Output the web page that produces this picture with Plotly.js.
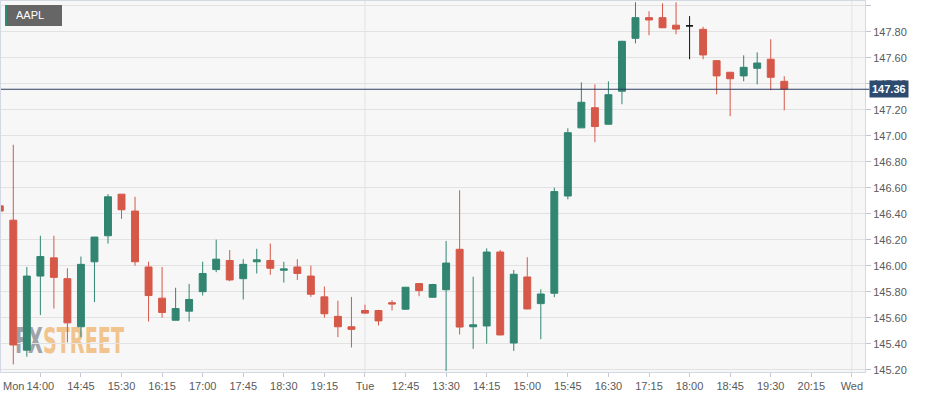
<!DOCTYPE html>
<html>
<head>
<meta charset="utf-8">
<script src="https://cdn.plot.ly/plotly-3.0.1.min.js"></script>
<style>
html,body{margin:0;padding:0;background:#fff;}
#wrap{position:relative;width:930px;height:399px;overflow:hidden;background:#fff;}
#plotbg{position:absolute;left:1px;top:1px;width:864px;height:371px;background:#f7f7f7;}
#wm{position:absolute;left:0;top:0;}
#chart{position:absolute;left:0;top:0;width:930px;height:399px;}
#sym{position:absolute;left:5px;top:5px;width:57px;height:21px;box-sizing:border-box;background:#666;border-left:2px solid #2f8a72;color:#fff;font:11px 'Liberation Sans',Arial,sans-serif;line-height:21px;padding-left:9px;z-index:5;}
</style>
</head>
<body>
<div id="wrap">
  <div id="plotbg"></div>
  <svg id="wm" width="930" height="399">
    <text x="15" y="353" font-family="'Liberation Sans Narrow','DejaVu Sans Condensed','Liberation Sans',sans-serif" font-weight="bold" font-size="36" textLength="109" lengthAdjust="spacingAndGlyphs"><tspan fill="#a0a3aa">FX</tspan><tspan fill="#f1c38d">STREET</tspan></text>
  </svg>
  <div id="chart"></div>
  <div id="sym">AAPL</div>
</div>
<script>
// 15-minute candles, index = slot on the session-compressed time axis
const openP  = [146.46,146.35,145.35,145.92,146.06,145.90,145.53,146.03,146.23,146.55,
                146.42,145.99,145.75,145.58,145.65,145.80,145.97,146.04,145.90,146.03,
                146.04,145.965,145.99,145.92,145.76,145.61,145.53,145.655,145.655,145.715,
                145.665,145.862,145.757,145.815,146.126,145.53,145.536,146.105,145.405,145.913,
                145.708,145.788,146.536,147.06,147.215,147.088,147.342,147.749,147.908,147.908,
                147.85,147.845,147.818,147.577,147.488,147.46,147.518,147.588,147.418];
const highP  = [146.47,146.93,145.99,146.23,146.23,145.98,146.07,146.22,146.55,146.55,
                146.53,146.03,145.99,145.83,145.86,146.03,146.20,146.12,146.05,146.13,
                146.17,146.03,146.05,146.00,145.84,145.73,145.76,145.70,145.66,145.735,
                145.835,145.865,145.86,146.19,146.58,145.915,146.133,146.12,145.967,146.065,
                145.818,146.60,147.057,147.41,147.395,147.418,147.73,148.026,147.957,148.018,
                148.026,147.92,147.838,147.58,147.49,147.618,147.641,147.742,147.457];
const lowP   = [146.41,145.24,145.30,145.62,145.67,145.41,145.45,145.72,146.17,146.36,
                146.00,145.57,145.60,145.58,145.57,145.77,145.95,145.88,145.74,145.94,
                145.93,145.87,145.89,145.76,145.60,145.45,145.37,145.63,145.54,145.655,
                145.66,145.765,145.755,145.19,145.47,145.36,145.40,145.465,145.344,145.665,
                145.434,145.757,146.51,147.06,146.95,147.085,147.242,147.71,147.772,147.83,
                147.78,147.588,147.588,147.318,147.15,147.418,147.395,147.349,147.195];
const closeP = [146.42,145.39,145.92,146.07,145.91,145.56,146.01,146.22,146.53,146.43,
                146.03,145.77,145.64,145.67,145.74,145.94,146.05,145.89,146.01,146.045,
                145.98,145.975,145.94,145.78,145.63,145.53,145.51,145.635,145.575,145.705,
                145.834,145.808,145.855,146.02,145.528,145.545,146.105,145.467,145.934,145.667,
                145.782,146.57,147.023,147.257,147.07,147.315,147.726,147.908,147.89,147.83,
                147.82,147.845,147.621,147.46,147.438,147.526,147.559,147.449,147.357];
const highlightIdx = 51;

const tickIdx    = [0,3,6,9,12,15,18,21,24,27,30,33,36,39,42,45,48,51,54,57,60,63];
const tickLabels = ['Mon','14:00','14:45','15:30','16:15','17:00','17:45','18:30','19:15','Tue',
                    '12:45','13:30','14:15','15:00','15:45','16:30','17:15','18:00','18:45','19:30','20:15','Wed'];
const dayIdx = [27,63];

const G = '#318571', R = '#d65848';
const FONT = "'Liberation Sans', Arial, sans-serif";

const idx = openP.map((_, i) => i);
const keep = idx.filter(i => i !== highlightIdx);
const pick = (arr, list) => list.map(i => arr[i]);

const mainTrace = {
  type: 'candlestick',
  x: keep, open: pick(openP, keep), high: pick(highP, keep), low: pick(lowP, keep), close: pick(closeP, keep),
  increasing: {line: {color: G, width: 1}, fillcolor: G},
  decreasing: {line: {color: R, width: 1}, fillcolor: R},
  whiskerwidth: 0, hoverinfo: 'skip', showlegend: false
};
const hiTrace = {
  type: 'candlestick',
  x: [highlightIdx], open: [openP[highlightIdx]], high: [highP[highlightIdx]], low: [lowP[highlightIdx]], close: [closeP[highlightIdx]],
  increasing: {line: {color: '#111', width: 1}, fillcolor: '#5b6570'},
  decreasing: {line: {color: '#111', width: 1}, fillcolor: '#5b6570'},
  whiskerwidth: 0, hoverinfo: 'skip', showlegend: false
};

const last = closeP[closeP.length - 1];

const shapes = dayIdx.map(d => ({
  type: 'line', xref: 'x', yref: 'paper', x0: d, x1: d, y0: 0, y1: 1, layer: 'below',
  line: {color: '#e3e3e3', width: 1}
}));
shapes.push({type: 'line', xref: 'paper', yref: 'y', x0: 0, x1: 1.005, y0: last, y1: last,
  line: {color: '#2c3e5f', width: 1.2}});

const layout = {
  width: 930, height: 399,
  margin: {l: 1, r: 65, t: 1, b: 27, pad: 0},
  paper_bgcolor: 'rgba(0,0,0,0)', plot_bgcolor: 'rgba(0,0,0,0)',
  showlegend: false, hovermode: false, dragmode: false,
  font: {family: FONT, size: 11, color: '#5a5a5a'},
  boxgap: 0.27,
  xaxis: {
    type: 'linear', range: [0.09, 63.97], tickmode: 'array', tickvals: tickIdx,
    ticktext: tickLabels.map((t, i) => i === 0 ? '' : t),
    ticks: 'outside', ticklen: 4, tickcolor: '#c3c8d4', showgrid: false, zeroline: false,
    showline: true, mirror: true, linecolor: '#d3d8e5', linewidth: 1,
    rangeslider: {visible: false}, fixedrange: true,
    tickfont: {family: FONT, size: 11, color: '#5a5a5a'}
  },
  yaxis: {
    side: 'right', range: [145.182, 148.036], tick0: 145.2, dtick: 0.2, tickformat: '.2f',
    ticks: 'outside', ticklen: 5, tickcolor: '#bfc4cf', showgrid: true, gridcolor: '#e2e2e2',
    zeroline: false, showline: true, mirror: true, linecolor: '#d3d8e5', linewidth: 1, fixedrange: true,
    tickfont: {family: FONT, size: 11, color: '#5a5a5a'}
  },
  shapes: shapes,
  annotations: [
    {xref: 'paper', x: 0, xanchor: 'left', yref: 'paper', y: 0, yanchor: 'top', yshift: -6,
     text: tickLabels[0], showarrow: false, font: {family: FONT, size: 11, color: '#5a5a5a'}},
    {xref: 'paper', x: 1, xanchor: 'left', xshift: 4, yref: 'y', y: last, yanchor: 'middle',
     text: '<b>' + last.toFixed(2) + '</b>', showarrow: false, bgcolor: '#2d4a6f', borderpad: 2,
     font: {family: FONT, size: 11, color: '#ffffff'}}
  ]
};

Plotly.newPlot('chart', [mainTrace, hiTrace], layout, {displayModeBar: false, staticPlot: true});
</script>
</body>
</html>
